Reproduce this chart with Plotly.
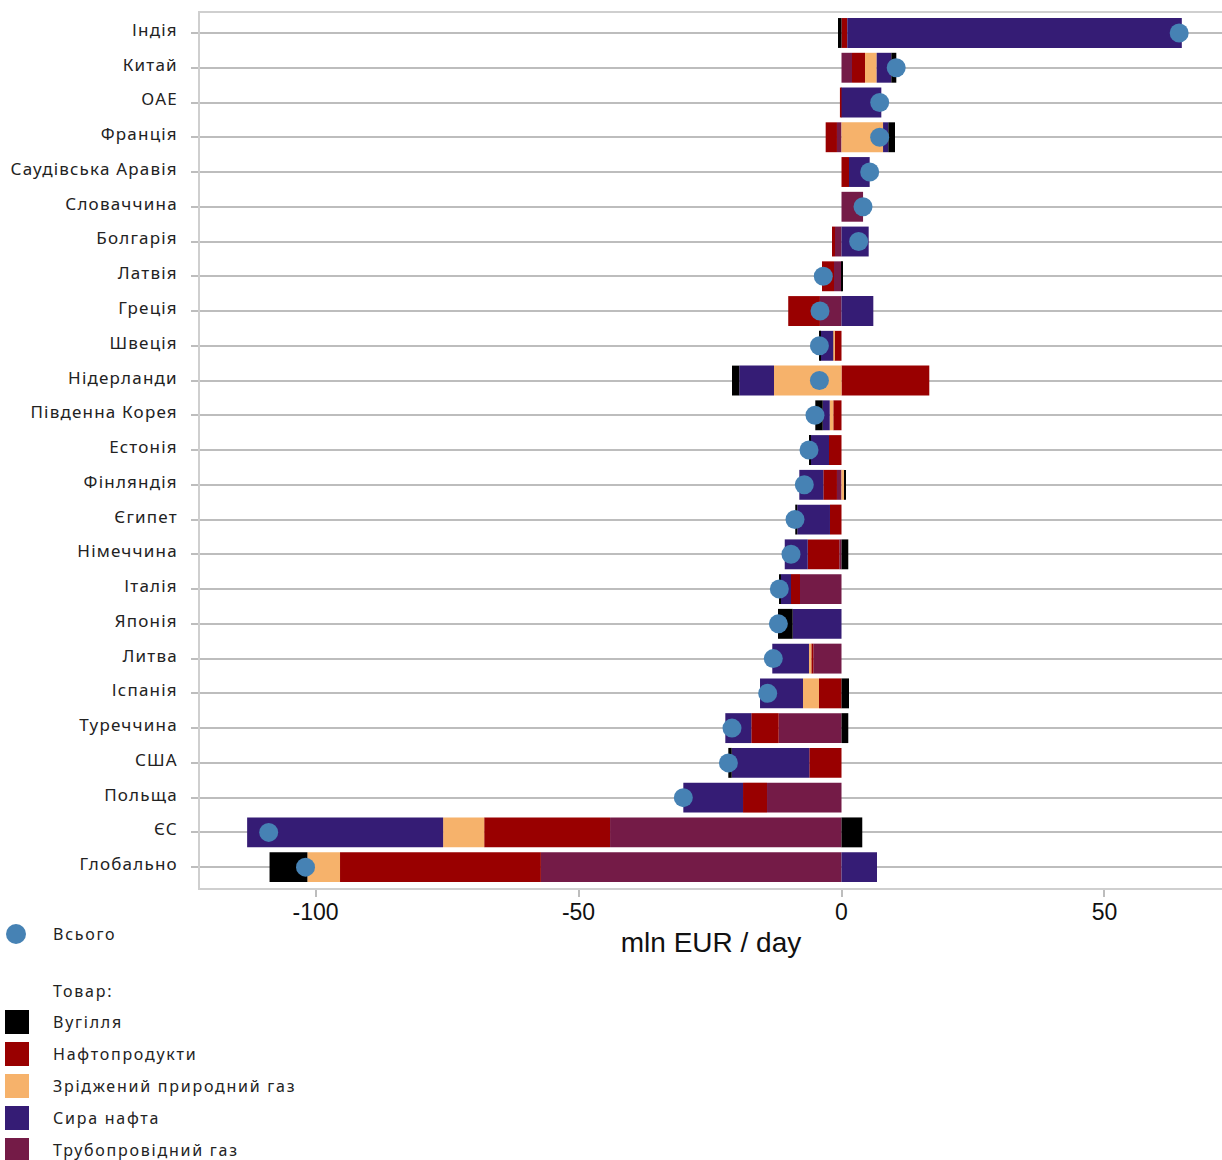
import plotly.graph_objects as go

countries = ["Індія", "Китай", "ОАЕ", "Франція", "Саудівська Аравія", "Словаччина",
             "Болгарія", "Латвія", "Греція", "Швеція", "Нідерланди", "Південна Корея",
             "Естонія", "Фінляндія", "Єгипет", "Німеччина", "Італія", "Японія", "Литва",
             "Іспанія", "Туреччина", "США", "Польща", "ЄС", "Глобально"]

coal = [-0.67, 0.95, 0, 1.27, 0, 0, 0, 0.2, 0, -0.2, -1.39, -1.41, -0.27, 0.1,
        -0.38, 1.29, -0.25, -2.79, 0, 1.43, 1.29, -0.65, 0, 3.95, -7.2]
oil_products = [1.1, 2.47, -0.3, -2.15, 1.43, 0, -0.57, -2.28, -6.03, -1.3, 16.69, -1.56,
                -2.38, -2.6, -2.19, -6.0, -1.71, 0, -0.38, -4.28, -5.21, -6.12, -4.56,
                -23.93, -38.19]
lng = [0, 2.22, 0, 7.9, 0, 0, 0, 0, 0, -0.27, -12.83, -0.68, 0, 0.6, 0, 0, 0, 0,
       -0.44, -3.04, 0, 0, 0, -7.81, -6.2]
crude = [63.6, 2.78, 7.57, 1.0, 3.93, 0, 5.17, 0, 6.05, -2.47, -6.6, -1.33, -3.48,
         -4.56, -6.22, -4.37, -1.96, -9.28, -6.98, -8.17, -4.94, -14.75, -11.35,
         -37.26, 6.75]
pipeline = [0, 2.0, 0, -0.86, 0, 4.1, -1.24, -1.43, -4.1, 0, 0, 0, 0, -0.86, 0, -0.42,
            -7.89, 0, -5.36, 0, -11.94, 0, -14.16, -44.0, -57.15]
total = [64.2, 10.4, 7.26, 7.26, 5.36, 4.09, 3.26, -3.46, -4.09, -4.2, -4.2, -5.04,
         -6.18, -7.07, -8.84, -9.6, -11.82, -12.0, -12.97, -14.03, -20.82, -21.5,
         -30.07, -108.9, -101.9]

x_tick_vals = [-100, -50, 0, 50]
x_tick_labels = ["-100", "-50", "0", "50"]
x_title = "mln EUR / day"
legend_total = "Всього"
legend_title = "Товар:"

# stacking order (from zero outward) and legend order
series = [
    ("Трубопровідний газ", pipeline, "#741b47"),
    ("Нафтопродукти", oil_products, "#990000"),
    ("Зріджений природний газ", lng, "#f6b26b"),
    ("Сира нафта", crude, "#351c75"),
    ("Вугілля", coal, "#000000"),
]
legend_order = ["Вугілля", "Нафтопродукти", "Зріджений природний газ", "Сира нафта",
                "Трубопровідний газ"]
color_of = {n: c for n, _, c in series}

W, H = 1222, 1160
ML, MR, MT, MB = 200, 0, 13, 272
PW, PH = W - ML - MR, H - MT - MB


def px(x):
    return (x - ML) / PW


def py(y):
    return (H - MB - y) / PH


LBL = "Noto Sans"

fig = go.Figure()
for name, vals, col in series:
    fig.add_trace(go.Bar(
        x=vals, y=countries, orientation="h", name=name,
        marker=dict(color=col, line=dict(width=0)),
        width=0.86, showlegend=False,
    ))

fig.add_trace(go.Scatter(
    x=total, y=countries, mode="markers", name=legend_total,
    marker=dict(color="#4682b4", size=19, line=dict(width=0)),
    showlegend=False,
))

ticktext = ['<span style="letter-spacing:1.2px">%s</span>' % c for c in countries]

fig.update_layout(
    width=W, height=H,
    margin=dict(l=ML, r=MR, t=MT, b=MB),
    barmode="relative",
    plot_bgcolor="white", paper_bgcolor="white",
    font=dict(family=LBL, color="#222"),
    xaxis=dict(
        range=[-121.96, 72.34],
        tickmode="array", tickvals=x_tick_vals, ticktext=x_tick_labels,
        ticks="outside", ticklen=7, tickwidth=1.5, tickcolor="#bdbdbd",
        ticklabelstandoff=-4,
        tickfont=dict(family="Liberation Sans, Arial", size=23, color="#111"),
        showgrid=False, zeroline=False,
        showline=True, linecolor="#cfcfcf", linewidth=1.5, mirror=True,
        title=dict(text=x_title, font=dict(family="Liberation Sans, Arial", size=28,
                                           color="#111"), standoff=8),
    ),
    yaxis=dict(
        type="category",
        categoryorder="array", categoryarray=countries[::-1],
        tickmode="array", tickvals=countries, ticktext=ticktext,
        range=[-0.6, len(countries) - 1 + 0.575],
        ticks="outside", ticklen=7, tickwidth=2, tickcolor="#bdbdbd",
        ticklabelstandoff=10, ticklabelshift=-3,
        tickfont=dict(family=LBL, size=17, color="#222"),
        showgrid=True, gridcolor="#bdbdbd", gridwidth=2,
        zeroline=False,
        showline=True, linecolor="#cfcfcf", linewidth=1.5,
    ),
)

# manual legend
shapes = []
annotations = []
LS = "letter-spacing:1.75px"
shapes.append(dict(type="circle", xref="paper", yref="paper",
                   x0=px(6), x1=px(26), y0=py(944), y1=py(924),
                   fillcolor="#4682b4", line=dict(width=0)))
annotations.append(dict(xref="paper", yref="paper", x=px(51), y=py(934),
                        xanchor="left", yanchor="middle", showarrow=False,
                        text='<span style="%s">%s</span>' % (LS, legend_total),
                        font=dict(family=LBL, size=16, color="#222")))
annotations.append(dict(xref="paper", yref="paper", x=px(51), y=py(991),
                        xanchor="left", yanchor="middle", showarrow=False,
                        text='<span style="%s">%s</span>' % (LS, legend_title),
                        font=dict(family=LBL, size=16, color="#222")))
for i, name in enumerate(legend_order):
    cy = 1022 + 32 * i
    shapes.append(dict(type="rect", xref="paper", yref="paper",
                       x0=px(5), x1=px(29), y0=py(cy + 12), y1=py(cy - 12),
                       fillcolor=color_of[name], line=dict(width=0)))
    annotations.append(dict(xref="paper", yref="paper", x=px(51), y=py(cy),
                            xanchor="left", yanchor="middle", showarrow=False,
                            text='<span style="%s">%s</span>' % (LS, name),
                            font=dict(family=LBL, size=16, color="#222")))

fig.update_layout(shapes=shapes, annotations=annotations)
fig.write_html("out.html", config={"displayModeBar": False},
               post_script="document.body.style.margin='0px';")
